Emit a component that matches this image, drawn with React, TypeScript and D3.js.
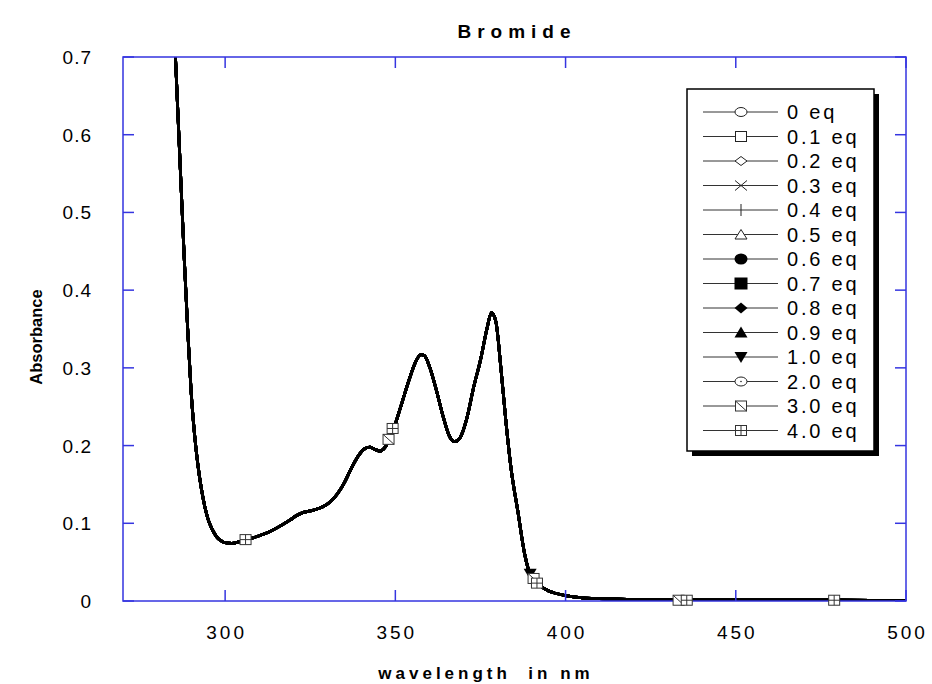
import React from "react";
import * as d3 from "d3";

// ---------- data ----------
const seriesNames = [
  "0 eq", "0.1 eq", "0.2 eq", "0.3 eq", "0.4 eq", "0.5 eq", "0.6 eq",
  "0.7 eq", "0.8 eq", "0.9 eq", "1.0 eq", "2.0 eq", "3.0 eq", "4.0 eq",
];
const seriesSymbols = [
  "circle", "square", "diamond", "cross", "plus", "triangle", "circleFilled",
  "squareFilled", "diamondFilled", "triangleFilled", "triangleDownFilled",
  "circleDot", "squareDiag", "squareGrid",
];

// spectrum (all titration curves coincide within line width)
const wavelengths = [
  284, 285, 286, 287, 288, 289, 290, 291, 292, 293, 294, 295, 296, 297, 298, 299,
  300, 302, 304, 306, 308, 310, 313, 316, 319, 321, 323, 326, 329, 331, 333, 335,
  337, 339, 341, 342.5, 344, 345.5, 347, 348.5, 350, 352, 354, 356, 357.5, 358.5,
  360, 362, 364, 366, 367.5, 369, 371, 373, 375, 377, 378.2, 379.5, 381, 382.5,
  384, 386, 388, 389, 390, 391.5, 393, 395, 397, 400, 405, 410, 420, 435, 450,
  480, 500,
];
const absorbance = [
  0.82, 0.74, 0.64, 0.54, 0.44, 0.35, 0.27, 0.215, 0.175, 0.145, 0.122, 0.105,
  0.094, 0.086, 0.08, 0.077, 0.075, 0.074, 0.076, 0.079, 0.081, 0.084, 0.089,
  0.096, 0.104, 0.11, 0.114, 0.117, 0.122, 0.128, 0.138, 0.152, 0.17, 0.186,
  0.196, 0.198, 0.195, 0.193, 0.198, 0.21, 0.228, 0.256, 0.284, 0.308, 0.317,
  0.316, 0.302, 0.272, 0.238, 0.211, 0.205, 0.21, 0.235, 0.275, 0.31, 0.352,
  0.371, 0.36, 0.3, 0.23, 0.17, 0.115, 0.06, 0.042, 0.031, 0.024, 0.018, 0.013,
  0.01, 0.007, 0.004, 0.003, 0.002, 0.0012, 0.0011, 0.001, 0.0008,
];

// visible data-point markers
const markerSeries = ["4.0 eq", "3.0 eq", "4.0 eq", "1.0 eq", "3.0 eq", "4.0 eq", "3.0 eq", "4.0 eq", "4.0 eq"];
const markerWavelengths = [306, 348, 349.2, 389.6, 390.6, 391.6, 433.2, 435.6, 478.9];
const markerAbsorbance = [0.079, 0.208, 0.222, 0.035, 0.029, 0.023, 0.001, 0.001, 0.001];

const xTicks = [300, 350, 400, 450, 500];
const yTicks = [0, 0.1, 0.2, 0.3, 0.4, 0.5, 0.6, 0.7];
const yTickLabels = ["0", "0.1", "0.2", "0.3", "0.4", "0.5", "0.6", "0.7"];

// ---------- layout ----------
const W = 932, H = 684;
const L = 123, R = 906, T = 57, B = 601;
const AXIS = "#3535e0";
const FONT = "'Liberation Sans', Arial, Helvetica, sans-serif";

function Marker({ type, x, y }: { type: string; x: number; y: number }) {
  const s = 5.5;
  const stroke = "#222";
  switch (type) {
    case "circle":
      return <ellipse cx={x} cy={y} rx={6} ry={4.5} fill="#fff" stroke={stroke} strokeWidth={1} />;
    case "circleDot":
      return (
        <g>
          <ellipse cx={x} cy={y} rx={6} ry={4.5} fill="#fff" stroke={stroke} strokeWidth={1} />
          <circle cx={x} cy={y} r={0.8} fill={stroke} />
        </g>
      );
    case "circleFilled":
      return <ellipse cx={x} cy={y} rx={6.5} ry={5.5} fill="#000" />;
    case "square":
      return <rect x={x - s} y={y - 5} width={2 * s} height={10} fill="#fff" stroke={stroke} strokeWidth={1} />;
    case "squareFilled":
      return <rect x={x - 6.5} y={y - 6} width={13} height={12} fill="#000" />;
    case "squareDiag":
      return (
        <g>
          <rect x={x - s} y={y - 5} width={2 * s} height={10} fill="#fff" stroke="#333" strokeWidth={1} />
          <line x1={x - s} y1={y - 5} x2={x + s} y2={y + 5} stroke="#333" strokeWidth={1} />
        </g>
      );
    case "squareGrid":
      return (
        <g>
          <rect x={x - s} y={y - 5} width={2 * s} height={10} fill="#fff" stroke="#333" strokeWidth={1} />
          <line x1={x} y1={y - 5} x2={x} y2={y + 5} stroke="#333" strokeWidth={1} />
          <line x1={x - s} y1={y} x2={x + s} y2={y} stroke="#333" strokeWidth={1} />
        </g>
      );
    case "diamond":
      return <path d={`M${x - 6},${y}L${x},${y - 4.5}L${x + 6},${y}L${x},${y + 4.5}Z`} fill="#fff" stroke={stroke} strokeWidth={1} />;
    case "diamondFilled":
      return <path d={`M${x - 6.5},${y}L${x},${y - 5.5}L${x + 6.5},${y}L${x},${y + 5.5}Z`} fill="#000" />;
    case "cross":
      return (
        <g stroke={stroke} strokeWidth={1}>
          <line x1={x - 6} y1={y - 5} x2={x + 6} y2={y + 5} />
          <line x1={x - 6} y1={y + 5} x2={x + 6} y2={y - 5} />
        </g>
      );
    case "plus":
      return <line x1={x} y1={y - 6} x2={x} y2={y + 6} stroke={stroke} strokeWidth={1} />;
    case "triangle":
      return <path d={`M${x - 6},${y + 4.5}L${x},${y - 5}L${x + 6},${y + 4.5}Z`} fill="#fff" stroke={stroke} strokeWidth={1} />;
    case "triangleFilled":
      return <path d={`M${x - 6.5},${y + 5}L${x},${y - 6}L${x + 6.5},${y + 5}Z`} fill="#000" />;
    case "triangleDownFilled":
      return <path d={`M${x - 6.5},${y - 5}L${x},${y + 6}L${x + 6.5},${y - 5}Z`} fill="#000" />;
    default:
      return null;
  }
}

export default function App() {
  const x = d3.scaleLinear().domain([270, 500]).range([L, R]);
  const y = d3.scaleLinear().domain([0, 0.7]).range([B, T]);

  const pts: [number, number][] = wavelengths.map((w, i) => [w, absorbance[i]]);
  const line = d3
    .line<[number, number]>()
    .x((d) => x(d[0]))
    .y((d) => y(d[1]))
    .curve(d3.curveMonotoneX);
  const pathD = line(pts) || "";

  const tickLen = 11;
  const legX = 687, legY = 89, legW = 187, legH = 362;
  const rowY0 = 112, rowStep = 24.5;

  return (
    <svg
      width={W}
      height={H}
      style={{ position: "absolute", left: 0, top: 0, display: "block", background: "#fff" }}
      fontFamily={FONT}
    >
      <defs>
        <clipPath id="plotClip">
          <rect x={L} y={T} width={R - L} height={B - T} />
        </clipPath>
      </defs>

      {/* title */}
      <text x={514 + 3} y={38} textAnchor="middle" fontSize={19} fontWeight="bold" letterSpacing={6}>
        Bromide
      </text>

      {/* curves (one per series, coincident) */}
      <g clipPath="url(#plotClip)">
        {seriesNames.map((n) => (
          <path key={n} d={pathD} fill="none" stroke="#000" strokeWidth={2.8} strokeLinejoin="round" />
        ))}
      </g>

      {/* frame */}
      <rect x={L} y={T} width={R - L} height={B - T} fill="none" stroke={AXIS} strokeWidth={1.5} />

      {/* ticks */}
      {xTicks.map((t) => (
        <g key={"xt" + t} stroke={AXIS} strokeWidth={1.5}>
          <line x1={x(t)} x2={x(t)} y1={B} y2={B - tickLen} />
          <line x1={x(t)} x2={x(t)} y1={T} y2={T + tickLen} />
        </g>
      ))}
      {yTicks.map((t) => (
        <g key={"yt" + t} stroke={AXIS} strokeWidth={1.5}>
          <line x1={L} x2={L + tickLen} y1={y(t)} y2={y(t)} />
          <line x1={R} x2={R - tickLen} y1={y(t)} y2={y(t)} />
        </g>
      ))}

      {/* tick labels */}
      {xTicks.map((t) => (
        <text key={"xl" + t} x={x(t) + 1.5} y={639} textAnchor="middle" fontSize={19} letterSpacing={3}>
          {String(t)}
        </text>
      ))}
      {yTicks.map((t, i) => (
        <text key={"yl" + t} x={92} y={y(t) + 7} textAnchor="end" fontSize={19} letterSpacing={1}>
          {yTickLabels[i]}
        </text>
      ))}

      {/* axis titles */}
      <text
        x={486}
        y={679}
        textAnchor="middle"
        fontSize={17}
        fontWeight="bold"
        letterSpacing={4}
        style={{ whiteSpace: "pre" }}
      >
        {"wavelength  in nm"}
      </text>
      <text
        transform={`translate(42,${337}) rotate(-90)`}
        textAnchor="middle"
        fontSize={16.5}
        fontWeight="bold"
      >
        Absorbance
      </text>

      {/* markers on curves */}
      <g>
        {markerWavelengths.map((w, i) => {
          const si = seriesNames.indexOf(markerSeries[i]);
          return <Marker key={"m" + i} type={seriesSymbols[si]} x={x(w)} y={y(markerAbsorbance[i])} />;
        })}
      </g>

      {/* legend */}
      <rect x={legX + 5} y={legY + 5} width={legW} height={legH} fill="#000" />
      <rect x={legX} y={legY} width={legW} height={legH} fill="#fff" stroke="#000" strokeWidth={1.5} />
      {seriesNames.map((n, i) => {
        const ry = rowY0 + i * rowStep;
        return (
          <g key={"lg" + n}>
            <line x1={703} x2={778} y1={ry} y2={ry} stroke="#333" strokeWidth={1} />
            <Marker type={seriesSymbols[i]} x={741} y={ry} />
            <text x={787} y={ry + 7} fontSize={20} letterSpacing={2.8}>
              {n}
            </text>
          </g>
        );
      })}
    </svg>
  );
}
